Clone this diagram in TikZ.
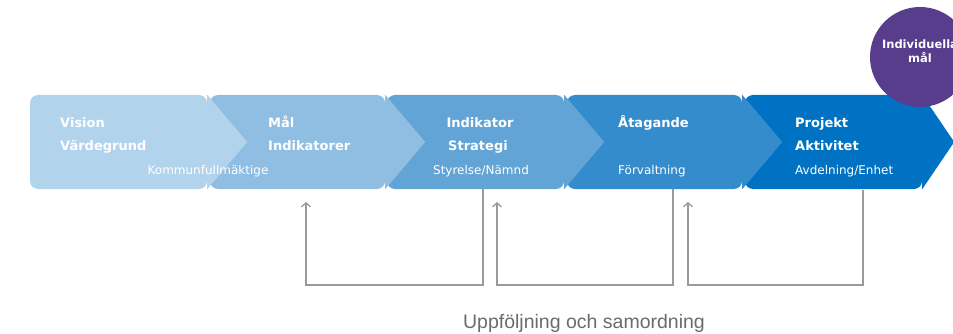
\documentclass[tikz,border=0pt]{standalone}
\usepackage{fontspec}
\setmainfont{DejaVu Sans}
\newfontfamily\capfont{Liberation Sans}
\usetikzlibrary{arrows.meta}
\definecolor{cA}{HTML}{B2D3EC}
\definecolor{cB}{HTML}{8FBEE2}
\definecolor{cC}{HTML}{62A4D6}
\definecolor{cD}{HTML}{348CCD}
\definecolor{cE}{HTML}{0072C3}
\definecolor{cP}{HTML}{583D8C}
\definecolor{lineg}{HTML}{9A9A9A}
\definecolor{textg}{HTML}{6B6B6B}
\tikzset{
  boxshape/.style={rectangle, rounded corners=8pt, inner sep=0pt, minimum height=94pt, minimum width=177pt, draw=none},
  boldtxt/.style={text=white, font=\fontsize{13}{15}\selectfont\bfseries, inner sep=0pt},
  smalltxt/.style={text=white, font=\fontsize{12}{14}\selectfont, inner sep=0pt},
  circtxt/.style={text=white, font=\fontsize{11.5}{13}\selectfont\bfseries, inner sep=0pt},
  conn/.style={draw=lineg, line width=1.3pt, -{Straight Barb[length=4pt,width=9pt,line width=1.3pt]}},
}
\begin{document}
\begin{tikzpicture}[x=1pt,y=-1pt]
\useasboundingbox (0,0) rectangle (953,334);
% boxes, right to left so each point lies over the next box
\node[boxshape, fill=cE] (b5) at (833.5,142) {};
\fill[cE] (b5.north east) -- ([xshift=32pt]b5.east) -- (b5.south east) -- cycle;
\node[boxshape, fill=cD, minimum width=175pt] (b4) at (654.5,142) {};
\fill[cD] (b4.north east) -- ([xshift=40pt]b4.east) -- (b4.south east) -- cycle;
\node[boxshape, fill=cC] (b3) at (475.5,142) {};
\fill[cC] (b3.north east) -- ([xshift=40pt]b3.east) -- (b3.south east) -- cycle;
\node[boxshape, fill=cB, minimum width=175pt] (b2) at (297.5,142) {};
\fill[cB] (b2.north east) -- ([xshift=40pt]b2.east) -- (b2.south east) -- cycle;
\node[boxshape, fill=cA] (b1) at (118.5,142) {};
\fill[cA] (b1.north east) -- ([xshift=40pt]b1.east) -- (b1.south east) -- cycle;
% circle
\node[circle, fill=cP, minimum size=100pt, inner sep=0pt] (ind) at (920,57) {};
\node[circtxt, anchor=base] (ind1) at (920,49) {Individuella};
\node[circtxt, anchor=base] (ind2) at (920,63) {mål};
% box texts
\node[boldtxt, anchor=base west] (t1a) at (60,128) {Vision};
\node[boldtxt, anchor=base west] (t1b) at (60,150) {Värdegrund};
\node[smalltxt, anchor=base] (t1c) at (208,175) {Kommunfullmäktige};
\node[boldtxt, anchor=base west] (t2a) at (268,128) {Mål};
\node[boldtxt, anchor=base west] (t2b) at (268,150) {Indikatorer};
\node[boldtxt, anchor=base] (t3a) at (480,128) {Indikator};
\node[boldtxt, anchor=base] (t3b) at (478,150) {Strategi};
\node[smalltxt, anchor=base] (t3c) at (481,175) {Styrelse/Nämnd};
\node[boldtxt, anchor=base west] (t4a) at (618,128) {Åtagande};
\node[smalltxt, anchor=base west] (t4c) at (618,175) {Förvaltning};
\node[boldtxt, anchor=base west] (t5a) at (795,128) {Projekt};
\node[boldtxt, anchor=base west] (t5b) at (795,150) {Aktivitet};
\node[smalltxt, anchor=base west] (t5c) at (795,175) {Avdelning/Enhet};
% connectors
\coordinate (s3) at (483,189);
\coordinate (s4) at (673,189);
\coordinate (s5) at (863,190);
\coordinate (a2) at (306,202);
\coordinate (a3) at (497,202);
\coordinate (a4) at (688,202);
\draw[conn] (s3) -- ++(0,96) -| (a2);
\draw[conn] (s4) -- ++(0,96) -| (a3);
\draw[conn] (s5) -- ++(0,95) -| (a4);
% caption
\node[text=textg, font=\capfont\fontsize{19.5}{22}\selectfont, inner sep=0pt, anchor=base] (cap) at (584,328) {Uppföljning och samordning};
\end{tikzpicture}
\end{document}
